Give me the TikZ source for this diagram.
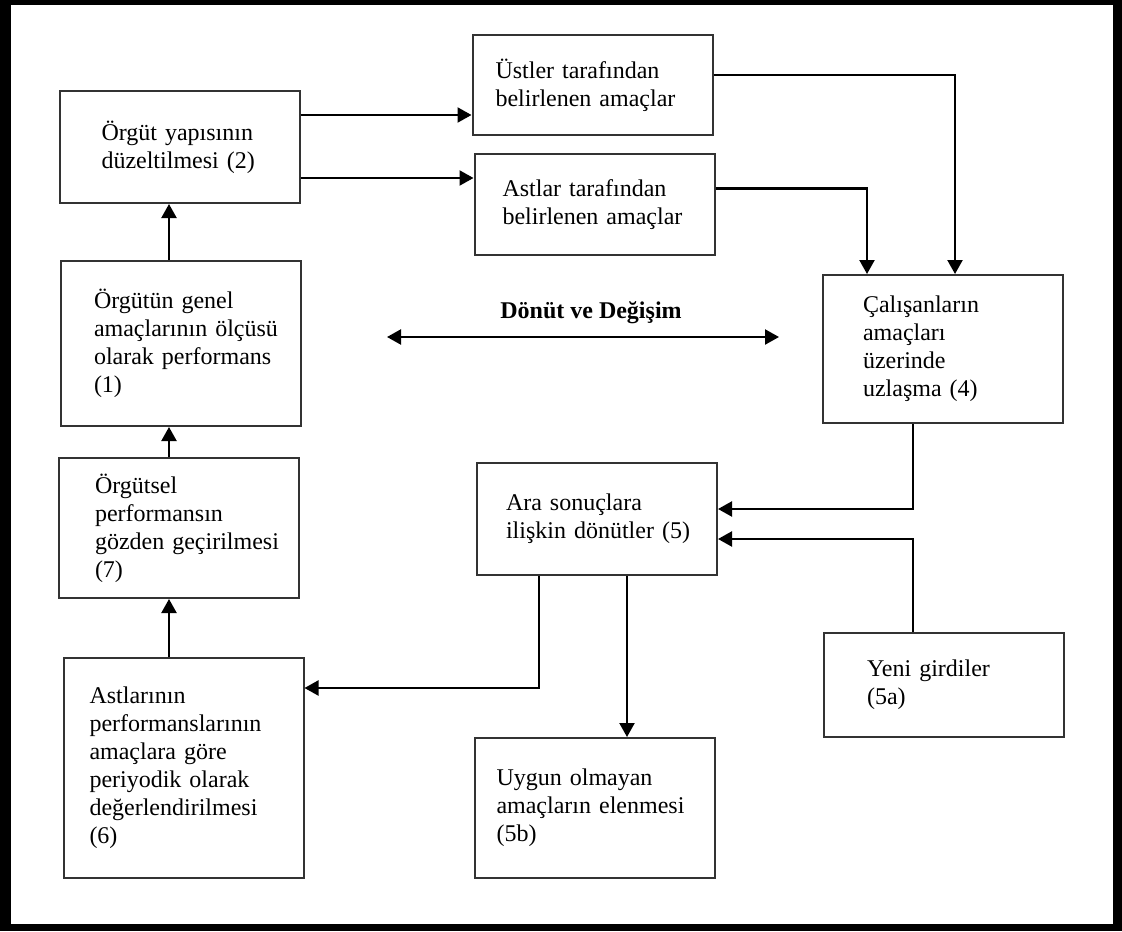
\documentclass[tikz,border=0pt]{standalone}
\usepackage{fontspec}
\setmainfont{Liberation Serif}
\usetikzlibrary{arrows.meta}

\begin{document}
\begin{tikzpicture}[x=0.5pt, y=-0.5pt, >={Triangle[length=7pt, width=7.5pt]},
  box/.style={draw=black!80, line width=1pt, align=left, inner xsep=0pt,
    minimum width=120pt, font=\fontsize{12}{14}\selectfont},
  link/.style={->, line width=1.1pt}]

  \fill[black] (0,0) rectangle (1122,931);
  \fill[white] (11,5) rectangle (1113,924);

  \node[box, minimum height=56pt, text width=78pt] (yapi) at (179.5,147)
    {Örgüt yapısının\\düzeltilmesi (2)};
  \node[box, minimum height=50pt, text width=97pt] (ustler) at (592.5,85)
    {Üstler tarafından\\belirlenen amaçlar};
  \node[box, minimum height=50.5pt, text width=92pt] (astlar) at (594.5,204.5)
    {Astlar tarafından\\belirlenen amaçlar};
  \node[box, minimum height=82.5pt, text width=87pt] (genel) at (181,343.5)
    {Örgütün genel\\\mbox{amaçlarının ölçüsü}\\\mbox{olarak performans}\\(1)};
  \node[box, minimum height=74pt, text width=80pt] (uzlasma) at (943,349)
    {Çalışanların\\amaçları\\üzerinde\\uzlaşma (4)};
  \node[box, minimum height=70pt, text width=84pt] (gozden) at (179,528)
    {Örgütsel\\performansın\\\mbox{gözden geçirilmesi}\\(7)};
  \node[box, minimum height=56pt, text width=91pt] (donut) at (597,519)
    {Ara sonuçlara\\\mbox{ilişkin dönütler (5)}};
  \node[box, minimum height=110pt, text width=94pt] (degerlendirme) at (183.5,768)
    {Astlarının\\performanslarının\\amaçlara göre\\periyodik olarak\\değerlendirilmesi\\(6)};
  \node[box, minimum height=52pt, text width=77pt] (girdi) at (944,685)
    {Yeni girdiler\\(5a)};
  \node[box, minimum height=70pt, text width=98pt] (eleme) at (594.5,808)
    {Uygun olmayan\\amaçların elenmesi\\(5b)};

  \foreach \a/\sa/\b/\sb in {genel/-6/yapi/-5.25, gozden/-5/genel/-6,
    degerlendirme/-7.25/gozden/-5}
  \draw [link] ([xshift=\sa pt]\a.north) -- ([xshift=\sb pt]\b.south);

  \draw [link] ([yshift=16pt]yapi.east) -- ([yshift=-15pt]ustler.west);
  \draw [link] ([yshift=-15.5pt]yapi.east) -- ([yshift=13.25pt]astlar.west);
  \draw [link] ([yshift=5pt]ustler.east) -| ([xshift=6pt]uzlasma.north);
  \draw [link] ([yshift=8pt]astlar.east) -| ([xshift=-38pt]uzlasma.north);
  \draw [link] ([xshift=-15pt]uzlasma.south) |- ([yshift=5pt]donut.east);
  \draw [link] ([xshift=-15.5pt]girdi.north) |- ([yshift=-10pt]donut.east);
  \draw [link] ([xshift=15pt]donut.south) -- ([xshift=16.25pt]eleme.north);
  \draw [link] ([xshift=-29pt]donut.south) |- ([yshift=40pt]degerlendirme.east);

  \coordinate (geri-sol) at (387,337);
  \coordinate (geri-sag) at (779,337);
  \draw [link, <->] (geri-sol) -- (geri-sag)
    node [midway, above=2.6pt, xshift=4pt, font=\fontsize{12}{14}\selectfont\bfseries]
    (geri) {Dönüt ve Değişim};

\end{tikzpicture}
\end{document}
